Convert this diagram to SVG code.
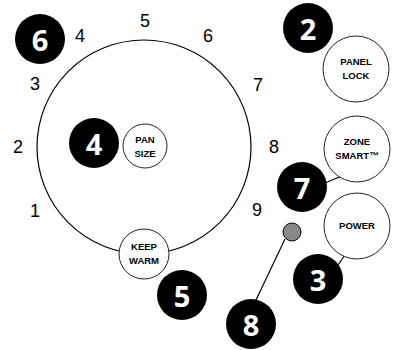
<svg xmlns="http://www.w3.org/2000/svg" width="393" height="350" viewBox="0 0 393 350">
<style>
.num{font-family:"Liberation Sans",Arial,sans-serif;font-size:18px;fill:#000;text-anchor:middle;dominant-baseline:central}
.badge circle{fill:#000}
.badge text{font-family:"Open Sans","Liberation Sans",sans-serif;font-weight:bold;font-size:29px;fill:#fff;text-anchor:middle;dominant-baseline:central}
.btn circle{fill:#fff;stroke:#222;stroke-width:1}
.btn text{font-family:"Liberation Sans",Arial,sans-serif;font-weight:bold;font-size:9.5px;fill:#000;text-anchor:middle}
.ln{stroke:#000;stroke-width:1.2;fill:none}
</style>
<rect width="393" height="350" fill="#fff"/>
<g id="dial">
<circle cx="144" cy="147" r="107" fill="none" stroke="#000" stroke-width="1.2"/>
</g>
<g id="scale">
<text class="num" x="35" y="211">1</text>
<text class="num" x="18" y="147">2</text>
<text class="num" x="35" y="84">3</text>
<text class="num" x="80" y="36">4</text>
<text class="num" x="145" y="21">5</text>
<text class="num" x="208" y="36">6</text>
<text class="num" x="258" y="85">7</text>
<text class="num" x="274" y="147">8</text>
<text class="num" x="257" y="210">9</text>
</g>
<g id="connectors">
<line class="ln" x1="325" y1="183" x2="356" y2="170"/>
<line class="ln" x1="338" y1="265" x2="356" y2="239"/>
<line class="ln" x1="285" y1="239" x2="256" y2="300"/>
</g>
<g id="keep-warm" class="btn"><circle cx="144" cy="254" r="25"/><text x="144" y="250">KEEP</text><text x="144" y="264">WARM</text></g>
<g id="pan-size" class="btn"><circle cx="145" cy="146" r="22"/><text x="145" y="143">PAN</text><text x="145" y="157">SIZE</text></g>
<g id="panel-lock" class="btn"><circle cx="356" cy="69" r="33"/><text x="356" y="65">PANEL</text><text x="356" y="79">LOCK</text></g>
<g id="zone-smart" class="btn"><circle cx="357" cy="149" r="33"/><text x="357" y="145">ZONE</text><text x="357" y="159">SMART™</text></g>
<g id="power" class="btn"><circle cx="357" cy="226" r="33"/><text x="357" y="229">POWER</text></g>
<g id="indicator"><circle cx="292" cy="232" r="9" fill="#888" stroke="#000" stroke-width="1"/></g>
<g id="badge-2" class="badge"><circle cx="308" cy="28" r="25"/><text x="308" y="28">2</text></g>
<g id="badge-3" class="badge"><circle cx="318" cy="279" r="25"/><text x="318" y="279">3</text></g>
<g id="badge-4" class="badge"><circle cx="94" cy="143" r="25"/><text x="94" y="143">4</text></g>
<g id="badge-5" class="badge"><circle cx="182" cy="295" r="25"/><text x="182" y="295">5</text></g>
<g id="badge-6" class="badge"><circle cx="40" cy="39" r="25"/><text x="40" y="39">6</text></g>
<g id="badge-7" class="badge"><circle cx="302" cy="187" r="25"/><text x="302" y="187">7</text></g>
<g id="badge-8" class="badge"><circle cx="251" cy="324" r="25"/><text x="251" y="324">8</text></g>
</svg>
